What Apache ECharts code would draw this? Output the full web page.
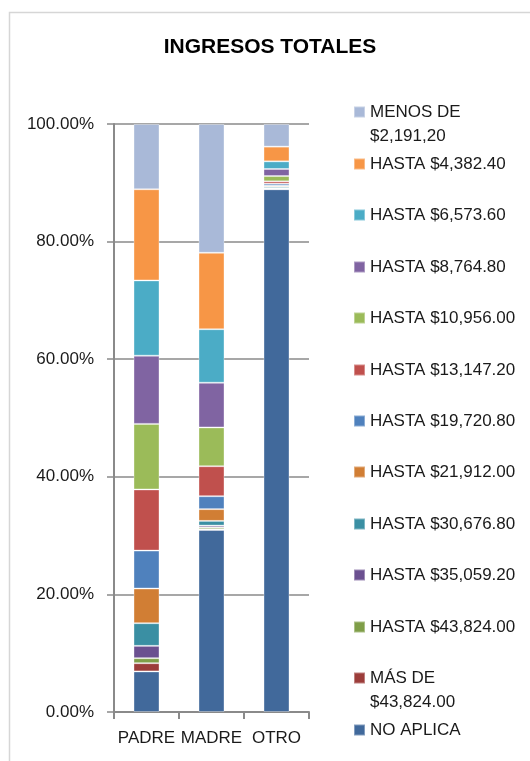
<!DOCTYPE html>
<html>
<head>
<meta charset="utf-8">
<script src="https://cdn.jsdelivr.net/npm/echarts@6/dist/echarts.min.js"></script>
<style>
  html, body { margin: 0; padding: 0; background: #fff; }
  #chart { width: 530px; height: 761px; }
</style>
</head>
<body>
<div id="chart"></div>
<script>
// categorias del eje x
const categorias = ["PADRE", "MADRE", "OTRO"];

// porcentajes por categoria [PADRE, MADRE, OTRO], de abajo hacia arriba
const noAplica   = [6.9, 30.95, 88.9];
const masDe43824 = [1.4, 0.15, 0.05];
const hasta43824 = [0.85, 0.3, 0.05];
const hasta35059 = [2.1, 0.3, 0.05];
const hasta30676 = [3.85, 0.8, 0.25];
const hasta21912 = [5.9, 2.0, 0.2];
const hasta19720 = [6.45, 2.2, 0.35];
const hasta13147 = [10.4, 5.1, 0.4];
const hasta10956 = [11.15, 6.6, 0.9];
const hasta8764  = [11.6, 7.6, 1.2];
const hasta6573  = [12.8, 9.1, 1.3];
const hasta4382  = [15.5, 13.0, 2.5];
const menos2191  = [11.1, 21.9, 3.85];

const yTicks = [0, 20, 40, 60, 80, 100];

// series en orden de apilado (abajo -> arriba)
const series = [
  { name: "NO APLICA", data: noAplica, color: "#41699B" },
  { name: "MÁS DE\n$43,824.00", data: masDe43824, color: "#9C3D3A" },
  { name: "HASTA $43,824.00", data: hasta43824, color: "#7F9E48" },
  { name: "HASTA $35,059.20", data: hasta35059, color: "#6B5090" },
  { name: "HASTA $30,676.80", data: hasta30676, color: "#3A8FA3" },
  { name: "HASTA $21,912.00", data: hasta21912, color: "#D17E34" },
  { name: "HASTA $19,720.80", data: hasta19720, color: "#4F81BD" },
  { name: "HASTA $13,147.20", data: hasta13147, color: "#C0504D" },
  { name: "HASTA $10,956.00", data: hasta10956, color: "#9BBB59" },
  { name: "HASTA $8,764.80", data: hasta8764, color: "#8064A2" },
  { name: "HASTA $6,573.60", data: hasta6573, color: "#4BACC6" },
  { name: "HASTA $4,382.40", data: hasta4382, color: "#F79646" },
  { name: "MENOS DE\n$2,191,20", data: menos2191, color: "#A9B9D8" }
];

const font = "'Liberation Sans', Arial, sans-serif";
const gris = "#8a8a8a";

// leyenda: una por elemento, de arriba hacia abajo
// (los nombres de dos lineas llevan una linea vacia delante para que el icono quede en la primera)
const legendOrder = series.slice().reverse();
const legends = legendOrder.map((s, i) => {
  const multi = s.name.indexOf("\n") >= 0;
  return {
    data: [s.name],
    formatter: multi ? (n => " \n" + n) : (n => n),
    orient: "vertical",
    left: 353,
    top: Math.round(110.7 + i * 51.47 - 10.5 - (multi ? 24 : 0)),
    padding: 0,
    icon: "rect",
    itemWidth: 11,
    itemHeight: 11,
    itemGap: 6,
    selectedMode: false,
    textStyle: { fontFamily: font, fontSize: 17, lineHeight: 24, color: "#1a1a1a" }
  };
});

const myChart = echarts.init(document.getElementById("chart"));
const option = {
  animation: false,
  backgroundColor: "#fff",
  title: {
    text: "INGRESOS TOTALES",
    left: 265,
    top: 32,
    textAlign: "center",
    textStyle: {
      fontFamily: font,
      fontSize: 21,
      fontWeight: "bold",
      color: "#000"
    }
  },
  graphic: [
    {
      type: "rect",
      shape: { x: 9.5, y: 12.5, width: 560, height: 800 },
      style: { fill: "none", stroke: "#d6d6d6", lineWidth: 1.5 },
      silent: true
    }
  ],
  legend: legends,
  grid: { left: 114, right: 221, top: 124, bottom: 49 },
  xAxis: {
    type: "category",
    data: categorias,
    axisLine: { lineStyle: { color: gris, width: 2 } },
    axisTick: { show: true, length: 7, lineStyle: { color: gris, width: 2 } },
    axisLabel: { fontFamily: font, fontSize: 17, color: "#1a1a1a", margin: 18, interval: 0 }
  },
  yAxis: {
    type: "value",
    min: yTicks[0],
    max: yTicks[yTicks.length - 1],
    interval: 20,
    axisLine: { show: true, lineStyle: { color: gris, width: 2 } },
    axisTick: { show: true, length: 7, lineStyle: { color: gris, width: 1.5 } },
    splitLine: { lineStyle: { color: gris, width: 1.5 } },
    axisLabel: {
      fontFamily: font,
      fontSize: 17,
      color: "#1a1a1a",
      margin: 20,
      formatter: v => v.toFixed(2) + "%"
    }
  },
  series: series.map(s => ({
    name: s.name,
    type: "bar",
    stack: "total",
    barWidth: 26,
    data: s.data,
    itemStyle: { color: s.color, borderColor: "rgba(255,255,255,0.35)", borderWidth: 1 }
  }))
};
option && myChart.setOption(option);
</script>
</body>
</html>
